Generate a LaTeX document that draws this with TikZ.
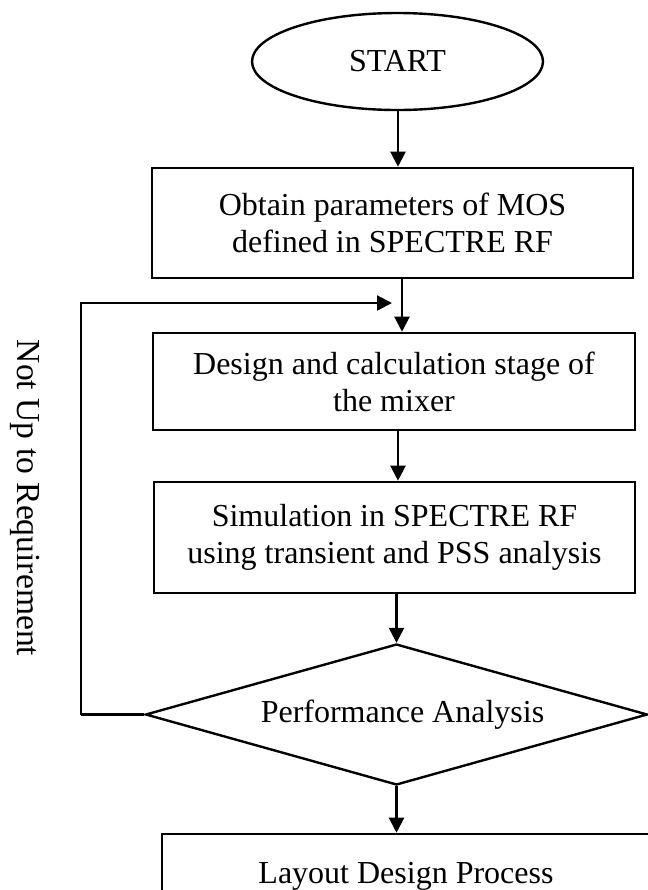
\documentclass[tikz,border=0pt]{standalone}
\usepackage{fontspec}
\setmainfont{Liberation Serif}
\usetikzlibrary{shapes.geometric,arrows.meta}

\tikzset{
  box/.style={draw, line width=1.3pt, rectangle, inner sep=0pt, align=center,
              font=\fontsize{16}{18.5}\selectfont},
  startnode/.style={draw, line width=1.2pt, ellipse, inner sep=0pt,
              font=\fontsize{16}{18.5}\selectfont},
  decision/.style={draw, line width=1.2pt, diamond, aspect=3.56, inner sep=0pt,
              font=\fontsize{16}{18.5}\selectfont},
  arr/.style={line width=1.1pt, -{Triangle[length=7.5pt,width=7.5pt]}},
  link/.style={line width=1.1pt},
  sidelabel/.style={font=\fontsize{16.8}{20}\selectfont, inner sep=0pt}
}

\begin{document}
\begin{tikzpicture}[x=0.5pt,y=-0.5pt]
  \useasboundingbox (0,0) rectangle (648,890);
  \clip (0,0) rectangle (648,890);

  % process chain
  \node[startnode, minimum width=145.5pt, minimum height=48.5pt, text depth=1pt]
       (start) at (397.5,61.5) {START};
  \node[box, minimum width=240.5pt, minimum height=55pt] (b1) at (392.5,223)
       {Obtain parameters of MOS\\defined in SPECTRE RF};
  \node[box, minimum width=241pt, minimum height=48.5pt] (b2) at (394,381.5)
       {Design and calculation stage of\\the mixer};
  \node[box, minimum width=240.5pt, minimum height=55.5pt] (b3) at (394.5,537.5)
       {Simulation in SPECTRE RF\\using transient and PSS analysis};
  \node[decision, minimum width=251pt, minimum height=70.5pt] (dia) at (396.5,714.5)
       {\hspace*{6pt}Performance Analysis};
  \node[box, minimum width=244pt, minimum height=42pt] (b4) at (406,876)
       {Layout Design Process};

  % helper points for the feedback loop
  \coordinate (axis) at (398,0);
  \coordinate (join) at (402,303);
  \coordinate (loopend) at (392,303);
  \coordinate (loopcorner) at (81,714.5);

  % connectors
  \draw[arr] (start.south -| axis) -- (b1.north -| axis);
  \draw[arr] (b1.south -| join) -- (b2.north -| join);
  \draw[arr] (b2.south -| axis) -- (b3.north -| axis);
  \draw[arr] (b3.south -| dia.north) -- (dia.north);
  \draw[arr] (dia.south) -- (dia.south |- b4.north);

  % feedback path
  \draw[link] (dia.west) -- (loopcorner);
  \draw[arr] (loopcorner) |- (loopend);

  \node[sidelabel, rotate=-90, anchor=base] (req) at (18,498) {Not Up to Requirement};
\end{tikzpicture}
\end{document}
